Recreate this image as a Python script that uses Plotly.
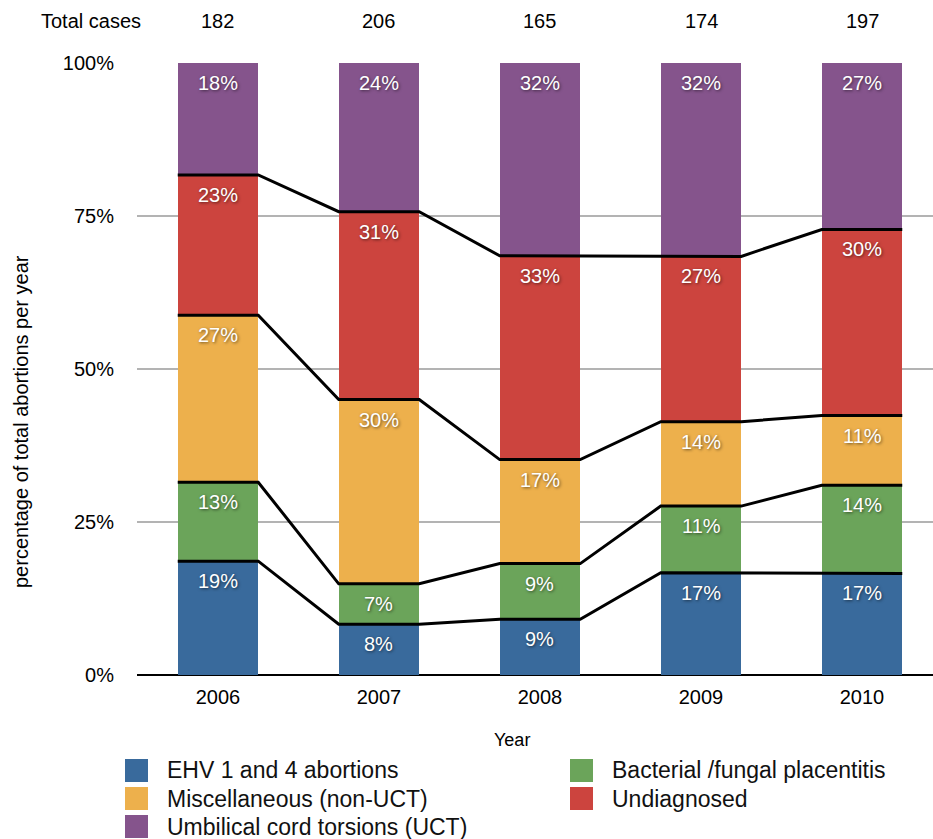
import plotly.graph_objects as go

years = [2006, 2007, 2008, 2009, 2010]
total_cases = [182, 206, 165, 174, 197]

series_names = [
    "EHV 1 and 4 abortions",
    "Bacterial /fungal placentitis",
    "Miscellaneous (non-UCT)",
    "Undiagnosed",
    "Umbilical cord torsions (UCT)",
]
ehv = [18.6, 8.3, 9.1, 16.7, 16.6]
bacterial = [12.9, 6.6, 9.1, 10.9, 14.4]
misc = [27.3, 30.1, 17.0, 13.8, 11.4]
undiagnosed = [22.9, 30.7, 33.3, 27.0, 30.4]
uct = [18.3, 24.3, 31.6, 31.6, 27.2]
series_values = [ehv, bacterial, misc, undiagnosed, uct]
colors = ["#396a9c", "#6ba45a", "#edb04c", "#cc443e", "#85548c"]

y_ticks = [0, 25, 50, 75, 100]
y_ticklabels = ["0%", "25%", "50%", "75%", "100%"]

FONT = "Liberation Sans, Arial, Helvetica, sans-serif"
BAR_W = 0.5

# plot area in pixels (for placing free text)
L, T, W, H = 137, 63, 796, 612
def px_x(p):
    return (p - L) / W
def px_y(p):
    return (T + H - p) / H

fig = go.Figure()

for name, vals, col in zip(series_names, series_values, colors):
    fig.add_trace(go.Bar(
        x=years, y=vals, name=name, width=BAR_W,
        marker=dict(color=col, line=dict(width=0)),
        showlegend=False,
    ))

# cumulative boundaries and connecting lines
cum = [0.0] * len(years)
tops = []
for vals in series_values:
    cum = [round(c + v, 6) for c, v in zip(cum, vals)]
    tops.append([min(c, 100.0) for c in cum])

for k in range(len(series_values) - 1):
    xs, ys = [], []
    for x, c in zip(years, tops[k]):
        xs += [x - BAR_W / 2, x + BAR_W / 2]
        ys += [c, c]
    fig.add_trace(go.Scatter(
        x=xs, y=ys, mode="lines",
        line=dict(color="black", width=3),
        showlegend=False, hoverinfo="skip",
    ))

annotations = []
# value labels near top of each segment
for k, vals in enumerate(series_values):
    for x, v, top in zip(years, vals, tops[k]):
        annotations.append(dict(
            x=x, y=top, xref="x", yref="y", text=f"{round(v)}%",
            showarrow=False, yanchor="middle", yshift=-20,
            font=dict(family=FONT, size=20, color="white",
                      shadow="1px 1px 3px rgba(0,0,0,0.55)"),
        ))

# Total cases row
annotations.append(dict(
    x=px_x(143), y=px_y(21), xref="paper", yref="paper",
    text="Total cases", showarrow=False, xanchor="right", yanchor="middle",
    font=dict(family=FONT, size=20, color="black"),
))
for x, n in zip(years, total_cases):
    annotations.append(dict(
        x=x, y=px_y(21), xref="x", yref="paper", text=str(n),
        showarrow=False, yanchor="middle",
        font=dict(family=FONT, size=20, color="black"),
    ))

# axis titles
annotations.append(dict(
    x=px_x(512), y=px_y(740), xref="paper", yref="paper", text="Year",
    showarrow=False, yanchor="middle",
    font=dict(family=FONT, size=18, color="black"),
))
annotations.append(dict(
    x=px_x(21), y=px_y(422), xref="paper", yref="paper",
    text="percentage of total abortions per year", textangle=-90,
    showarrow=False, xanchor="center", yanchor="middle",
    font=dict(family=FONT, size=20, color="black"),
))

# manual legend
legend_order = [0, 1, 2, 3, 4]
col_sq_x = [125, 570]
col_tx_x = [165, 610]
row_cy = [770.5, 798.5, 826.5]
shapes = []
for i, k in enumerate(legend_order):
    r, c = divmod(i, 2)
    cy = row_cy[r]
    sx = col_sq_x[c]
    shapes.append(dict(
        type="rect", xref="paper", yref="paper",
        x0=px_x(sx), x1=px_x(sx + 23), y0=px_y(cy + 11.5), y1=px_y(cy - 11.5),
        fillcolor=colors[k], line=dict(width=0),
    ))
    annotations.append(dict(
        x=px_x(col_tx_x[c]), y=px_y(cy), xref="paper", yref="paper",
        text=series_names[k], showarrow=False, xanchor="left", yanchor="middle",
        font=dict(family=FONT, size=23, color="#111111"),
    ))

fig.update_layout(
    barmode="stack",
    width=933, height=839,
    margin=dict(l=L, r=933 - L - W, t=T, b=839 - T - H, pad=0),
    paper_bgcolor="white", plot_bgcolor="white",
    annotations=annotations, shapes=shapes,
    font=dict(family=FONT, size=20, color="black"),
    xaxis=dict(
        range=[years[0] - 0.503, years[0] + (933 - 218) / 161],
        tickmode="array", tickvals=years, ticktext=[str(y) for y in years],
        showgrid=False, zeroline=False, showline=False,
        ticks="", ticklabelstandoff=8,
        tickfont=dict(family=FONT, size=20, color="black"),
    ),
    yaxis=dict(
        range=[0, 100], tickmode="array", tickvals=y_ticks, ticktext=y_ticklabels,
        showgrid=True, gridcolor="#b3b3b3", gridwidth=2,
        zeroline=True, zerolinecolor="black", zerolinewidth=2,
        showline=False, ticks="", ticklabelstandoff=22,
        tickfont=dict(family=FONT, size=20, color="black"),
    ),
)

fig.write_html(
    "out.html",
    config={"displayModeBar": False},
    post_script="document.body.style.margin='0';document.body.style.padding='0';document.body.style.overflow='hidden';",
)
